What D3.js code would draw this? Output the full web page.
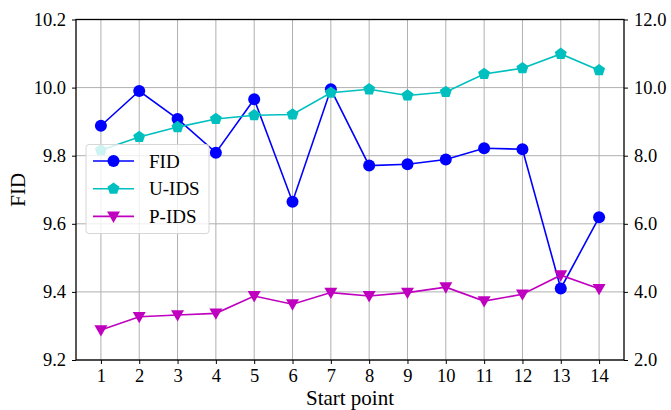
<!DOCTYPE html>
<html>
<head>
<meta charset="utf-8">
<script src="https://cdn.jsdelivr.net/npm/d3@7"></script>
<style>
  body { margin: 0; background: #fff; }
  svg { display: block; }
  svg text { font-family: "Liberation Serif", "DejaVu Serif", serif; }
</style>
</head>
<body>
<div id="chart"></div>
<script>
    "use strict";

    //Values
    var startPoints = [1, 2, 3, 4, 5, 6, 7, 8, 9, 10, 11, 12, 13, 14];
    var fidValues = [9.888, 9.990, 9.908, 9.809, 9.966, 9.665, 9.995, 9.771, 9.775, 9.789, 9.822, 9.819, 9.410, 9.619];
    var uidsValues = [8.16, 8.55, 8.84, 9.08, 9.19, 9.21, 9.85, 9.95, 9.77, 9.87, 10.40, 10.57, 10.99, 10.51];
    var pidsValues = [2.88, 3.27, 3.32, 3.37, 3.88, 3.64, 3.98, 3.88, 3.98, 4.14, 3.73, 3.93, 4.49, 4.09];
    var leftTicks = [9.2, 9.4, 9.6, 9.8, 10.0, 10.2];
    var rightTicks = [2, 4, 6, 8, 10, 12];

    var width = 671, height = 410;
    var margin = { top: 19.5, right: 47, bottom: 50, left: 76 };
    var plotW = width - margin.left - margin.right;
    var plotH = height - margin.top - margin.bottom;

    var svg = d3.select("#chart")
        .append("svg")
        .attr("width", width)
        .attr("height", height);

    var g = svg.append("g").attr("transform", "translate(" + margin.left + "," + margin.top + ")");

    var x = d3.scaleLinear().domain([0.35, 14.65]).range([0, plotW]);
    var yLeft = d3.scaleLinear().domain([9.2, 10.2]).range([plotH, 0]);
    var yRight = d3.scaleLinear().domain([2, 12]).range([plotH, 0]);

    //Grid
    g.append("g").selectAll("line")
        .data(startPoints)
        .enter().append("line")
        .attr("x1", function (d) { return x(d); })
        .attr("x2", function (d) { return x(d); })
        .attr("y1", 0).attr("y2", plotH)
        .attr("stroke", "#b0b0b0").attr("stroke-width", 1);

    g.append("g").selectAll("line")
        .data(leftTicks)
        .enter().append("line")
        .attr("x1", 0).attr("x2", plotW)
        .attr("y1", function (d) { return yLeft(d); })
        .attr("y2", function (d) { return yLeft(d); })
        .attr("stroke", "#b0b0b0").attr("stroke-width", 1);

    //Axes
    var xAxis = d3.axisBottom(x).tickValues(startPoints).tickSize(4).tickPadding(5)
        .tickFormat(d3.format("d"));
    var leftAxis = d3.axisLeft(yLeft).tickValues(leftTicks).tickSize(4).tickPadding(6)
        .tickFormat(d3.format(".1f"));
    var rightAxis = d3.axisRight(yRight).tickValues(rightTicks).tickSize(4).tickPadding(6)
        .tickFormat(d3.format(".1f"));

    function styleAxis(sel) {
        sel.attr("font-family", "Liberation Serif, serif").attr("font-size", 18.5);
        sel.select(".domain").remove();
        sel.selectAll("line").attr("stroke", "#000").attr("stroke-width", 1);
        sel.selectAll("text").attr("fill", "#000");
    }

    g.append("g").attr("transform", "translate(0," + plotH + ")").call(xAxis).call(styleAxis);
    g.append("g").call(leftAxis).call(styleAxis);
    g.append("g").attr("transform", "translate(" + plotW + ",0)").call(rightAxis).call(styleAxis);

    //Frame
    g.append("rect")
        .attr("x", 0).attr("y", 0)
        .attr("width", plotW).attr("height", plotH)
        .attr("fill", "none").attr("stroke", "#000").attr("stroke-width", 1.3);

    //Marker shapes
    function pentagonPath(r) {
        var pts = [];
        for (var i = 0; i < 5; i++) {
            var a = -Math.PI / 2 + i * 2 * Math.PI / 5;
            pts.push([r * Math.cos(a), r * Math.sin(a)]);
        }
        return "M" + pts.join("L") + "Z";
    }
    function triDownPath(r) {
        return "M" + (-r) + "," + (-r * 0.75) + "L" + r + "," + (-r * 0.75) + "L0," + r + "Z";
    }
    var markerPaths = {
        circle: d3.symbol().type(d3.symbolCircle).size(Math.PI * 36)(),
        pentagon: pentagonPath(6.3),
        triangle: triDownPath(6.5)
    };

    var series = [
        { name: "FID", values: fidValues, scale: yLeft, color: "#0000ff", marker: "circle" },
        { name: "U-IDS", values: uidsValues, scale: yRight, color: "#00bfbf", marker: "pentagon" },
        { name: "P-IDS", values: pidsValues, scale: yRight, color: "#bf00bf", marker: "triangle" }
    ];

    series.forEach(function (s) {
        var line = d3.line()
            .x(function (d, i) { return x(startPoints[i]); })
            .y(function (d) { return s.scale(d); });

        g.append("path")
            .datum(s.values)
            .attr("d", line)
            .attr("fill", "none")
            .attr("stroke", s.color)
            .attr("stroke-width", 1.6);

        g.append("g").selectAll("path")
            .data(s.values)
            .enter().append("path")
            .attr("d", markerPaths[s.marker])
            .attr("transform", function (d, i) { return "translate(" + x(startPoints[i]) + "," + s.scale(d) + ")"; })
            .attr("fill", s.color);
    });

    //Legend
    var legend = svg.append("g").attr("transform", "translate(86,144.5)");
    legend.append("rect")
        .attr("width", 123).attr("height", 89)
        .attr("rx", 3).attr("ry", 3)
        .attr("fill", "rgba(255,255,255,0.8)")
        .attr("stroke", "#d6d6d6").attr("stroke-width", 1);

    var entries = legend.selectAll("g.entry")
        .data(series)
        .enter().append("g")
        .attr("class", "entry")
        .attr("transform", function (d, i) { return "translate(0," + (16.5 + i * 27.7) + ")"; });

    entries.append("line")
        .attr("x1", 7).attr("x2", 48)
        .attr("stroke", function (d) { return d.color; })
        .attr("stroke-width", 1.6);
    entries.append("path")
        .attr("d", function (d) { return markerPaths[d.marker]; })
        .attr("transform", "translate(27.5,0)")
        .attr("fill", function (d) { return d.color; });
    entries.append("text")
        .attr("x", 63).attr("y", 0)
        .attr("dy", "0.35em")
        .style("font-size", "19px")
        .text(function (d) { return d.name; });

    //Axis titles
    svg.append("text")
        .attr("x", margin.left + plotW / 2)
        .attr("y", 405)
        .attr("text-anchor", "middle")
        .style("font-size", "21px")
        .text("Start point");

    svg.append("text")
        .attr("transform", "translate(25," + (margin.top + plotH / 2) + ") rotate(-90)")
        .attr("text-anchor", "middle")
        .style("font-size", "21px")
        .text("FID");
</script>
</body>
</html>
